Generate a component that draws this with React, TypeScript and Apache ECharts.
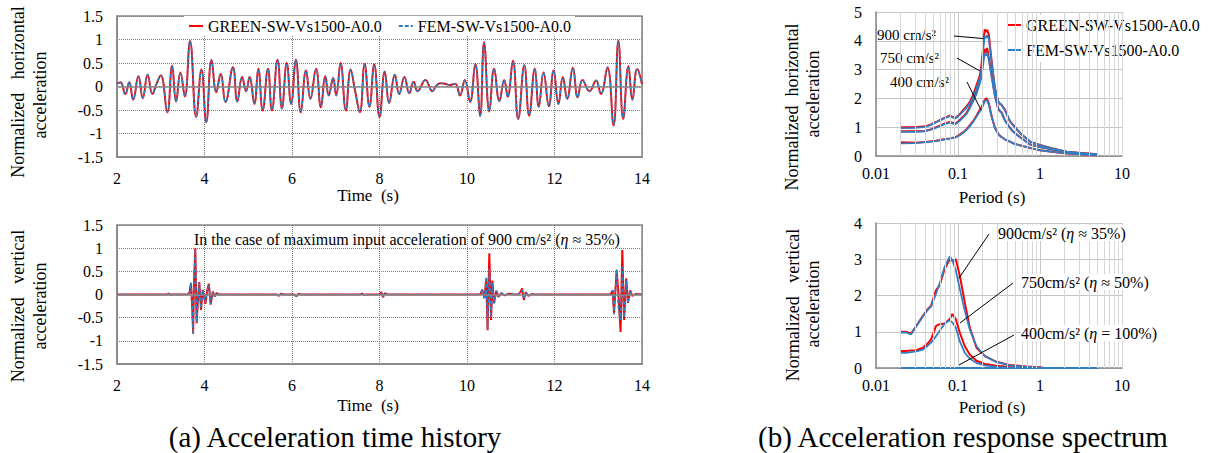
import React, { useEffect, useRef } from "react";
import * as echarts from "echarts";

const FONT = "'Liberation Serif', 'Times New Roman', serif";
const RED = "#FF0000";
const BLUE = "#2F7FC4";
const NAME_GREEN = "GREEN-SW-Vs1500-A0.0";
const NAME_FEM = "FEM-SW-Vs1500-A0.0";
const SPEC_SUFFIX = " (spectrum)";

// ---------- (a) horizontal time history ----------
const horizTimes = [
  2.0, 2.08, 2.19, 2.28, 2.37, 2.49, 2.59, 2.7, 2.81, 2.9,
  3.0, 3.15, 3.26, 3.35, 3.45, 3.55, 3.67, 3.81, 3.93, 4.04,
  4.16, 4.27, 4.37, 4.48, 4.65, 4.75, 4.86, 4.95, 5.03, 5.14,
  5.23, 5.33, 5.45, 5.54, 5.67, 5.77, 5.88, 5.98, 6.09, 6.2,
  6.32, 6.42, 6.55, 6.66, 6.76, 6.84, 6.94, 7.01, 7.11, 7.23,
  7.34, 7.44, 7.55, 7.66, 7.77, 7.88, 8.0, 8.12, 8.22, 8.35,
  8.45, 8.57, 8.68, 8.78, 8.87, 9.05, 9.21, 9.3, 9.39, 9.5,
  9.6, 9.73, 9.84, 9.95, 10.07, 10.19, 10.3, 10.39, 10.51, 10.62,
  10.74, 10.85, 10.93, 11.05, 11.17, 11.31, 11.42, 11.55, 11.64, 11.75,
  11.87, 11.98, 12.09, 12.19, 12.29, 12.42, 12.53, 12.64, 12.8, 12.95,
  13.06, 13.21, 13.35, 13.46, 13.57, 13.69, 13.78, 13.89, 14.0,
];
const horizGreen = [
  0.06, 0.09, -0.16, 0.09, -0.28, 0.22, -0.25, 0.25, -0.16, 0.05,
  0.24, -0.55, 0.44, -0.32, 0.3, -0.21, 0.97, -0.65, 0.36, -0.76,
  0.57, -0.12, 0.27, -0.33, 0.41, -0.32, 0.2, -0.1, 0.2, -0.37,
  0.38, -0.51, 0.38, -0.51, 0.57, -0.47, 0.5, -0.37, 0.57, -0.55,
  0.34, -0.26, 0.38, -0.44, 0.22, -0.19, 0.18, -0.19, 0.5, -0.51,
  0.36, -0.08, -0.55, 0.48, -0.43, 0.47, -0.65, 0.32, -0.35, 0.25,
  -0.16, 0.2, -0.14, 0.1, -0.1, 0.14, -0.1, 0.02, 0.07, 0.06,
  0.03, 0.06, -0.19, 0.14, -0.33, 0.48, -0.63, 0.94, -0.53, 0.38,
  -0.31, 0.14, -0.22, 0.55, -0.69, 0.45, -0.62, 0.38, -0.43, 0.3,
  -0.42, 0.34, -0.37, 0.2, -0.26, 0.4, -0.23, 0.14, -0.1, 0.13,
  -0.16, 0.41, -0.83, 0.98, -0.69, 0.43, -0.28, 0.37, 0.05,
];
const horizFem = [
  0.06, 0.08, -0.15, 0.09, -0.27, 0.22, -0.24, 0.25, -0.16, 0.05,
  0.23, -0.54, 0.43, -0.32, 0.29, -0.21, 0.95, -0.64, 0.35, -0.75,
  0.56, -0.12, 0.27, -0.33, 0.4, -0.32, 0.2, -0.1, 0.2, -0.36,
  0.37, -0.5, 0.38, -0.5, 0.56, -0.47, 0.49, -0.37, 0.56, -0.54,
  0.34, -0.26, 0.37, -0.43, 0.22, -0.19, 0.18, -0.19, 0.49, -0.5,
  0.35, -0.08, -0.54, 0.47, -0.43, 0.46, -0.64, 0.32, -0.35, 0.25,
  -0.16, 0.2, -0.14, 0.1, -0.1, 0.14, -0.1, 0.02, 0.07, 0.06,
  0.03, 0.06, -0.19, 0.14, -0.32, 0.47, -0.62, 0.92, -0.52, 0.38,
  -0.31, 0.14, -0.22, 0.54, -0.68, 0.45, -0.61, 0.38, -0.43, 0.3,
  -0.41, 0.34, -0.37, 0.2, -0.26, 0.39, -0.23, 0.14, -0.1, 0.13,
  -0.16, 0.4, -0.82, 0.96, -0.68, 0.43, -0.28, 0.36, 0.05,
];

// ---------- (a) vertical time history ----------
const vertTimes = [
  2.0, 3.15, 3.18, 3.22, 3.25, 3.62, 3.66, 3.69, 3.72, 3.74,
  3.76, 3.79, 3.82, 3.85, 3.88, 3.92, 3.96, 3.99, 4.02, 4.06,
  4.1, 4.14, 4.19, 4.23, 4.28, 4.33, 5.65, 5.7, 5.75, 5.8,
  6.05, 6.1, 6.15, 6.2, 7.55, 7.6, 7.65, 7.7, 8.0, 8.04,
  8.08, 8.12, 8.18, 10.3, 10.35, 10.4, 10.44, 10.47, 10.51, 10.55,
  10.58, 10.62, 10.67, 10.72, 10.78, 10.86, 10.95, 11.05, 11.17, 11.22,
  11.26, 11.3, 11.34, 11.4, 11.48, 11.55, 13.28, 13.33, 13.36, 13.42,
  13.46, 13.51, 13.55, 13.59, 13.64, 13.68, 13.73, 13.78, 13.85, 14.0,
];
const vertGreen = [
  0, 0, 0.02, -0.01, 0, 0, 0.05, 0.24, -0.3, -0.84,
  0.25, 1.0, -0.62, -0.12, 0.27, -0.33, 0.1, -0.05, -0.2, 0.08,
  0.23, -0.22, 0.06, -0.04, 0.03, 0, 0, -0.03, 0.02, 0,
  0, -0.04, 0.02, 0, 0, 0.02, -0.01, 0, 0, 0.05,
  -0.06, 0.03, 0, 0, 0.1, -0.08, 0.35, -0.77, 0.89, -0.55,
  0.3, -0.18, 0.08, -0.05, 0.03, -0.02, 0.02, 0, 0, 0.05,
  0.13, -0.12, 0.05, -0.03, 0.01, 0, 0, 0.09, -0.41, 0.52,
  0.05, -0.81, 0.96, -0.55, 0.35, -0.18, 0.09, -0.03, 0.01, 0,
];
const vertFem = [
  0, 0, 0.02, -0.01, 0, 0, 0.05, 0.26, -0.28, -0.86,
  0.3, 0.97, -0.6, -0.18, 0.25, -0.3, 0.1, -0.05, -0.18, 0.08,
  0.2, -0.2, 0.06, -0.04, 0.03, 0, 0, -0.02, 0.02, 0,
  0, -0.04, 0.02, 0, 0, 0.02, -0.01, 0, 0, 0.05,
  -0.06, 0.03, 0, 0, 0.12, -0.08, 0.38, -0.75, 0.56, -0.5,
  0.25, -0.2, 0.08, -0.05, 0.03, -0.02, 0.02, 0, 0, 0.05,
  0.1, -0.1, 0.05, -0.03, 0.01, 0, 0, 0.09, -0.43, 0.55,
  -0.3, -0.55, 0.6, -0.5, 0.3, -0.18, 0.09, -0.03, 0.01, 0,
];

// ---------- (b) horizontal response spectrum ----------
const hPeriods = [
  0.02, 0.03, 0.04, 0.047, 0.054, 0.065, 0.079, 0.093, 0.105, 0.115,
  0.127, 0.139, 0.152, 0.168, 0.18, 0.19, 0.2, 0.206, 0.212, 0.22,
  0.227, 0.238, 0.257, 0.282, 0.309, 0.325, 0.339, 0.372, 0.43, 0.471,
  0.569, 0.758, 1.0, 1.46, 2.12, 3.2, 5.0,
];
const hGreen900 = [
  1.0, 1.0, 1.03, 1.1, 1.18, 1.3, 1.4, 1.32, 1.45, 1.58,
  1.72, 1.87, 2.1, 2.45, 2.7, 2.95, 3.6, 4.1, 4.4, 4.3,
  4.38, 4.2, 3.3, 2.35, 1.9, 1.8, 1.78, 1.62, 1.2, 1.08,
  0.8, 0.5, 0.38, 0.25, 0.15, 0.1, 0.06,
];
const hFem900 = [
  0.97, 0.98, 1.01, 1.08, 1.17, 1.28, 1.38, 1.3, 1.43, 1.55,
  1.68, 1.82, 2.03, 2.35, 2.6, 2.85, 3.45, 3.9, 4.15, 4.1,
  4.2, 4.05, 3.25, 2.35, 1.9, 1.82, 1.78, 1.6, 1.2, 1.06,
  0.8, 0.5, 0.38, 0.25, 0.15, 0.1, 0.06,
];
const hGreen750 = [
  0.86, 0.86, 0.87, 0.93, 1.0, 1.1, 1.18, 1.12, 1.25, 1.36,
  1.5, 1.7, 1.93, 2.22, 2.5, 2.75, 3.2, 3.5, 3.72, 3.6,
  3.75, 3.4, 2.8, 2.1, 1.65, 1.55, 1.52, 1.25, 0.98, 0.85,
  0.66, 0.4, 0.31, 0.22, 0.14, 0.09, 0.05,
];
const hFem750 = [
  0.84, 0.84, 0.86, 0.92, 0.98, 1.08, 1.16, 1.1, 1.22, 1.33,
  1.46, 1.65, 1.88, 2.15, 2.42, 2.65, 3.05, 3.35, 3.55, 3.48,
  3.6, 3.32, 2.75, 2.08, 1.66, 1.56, 1.5, 1.24, 0.97, 0.84,
  0.65, 0.4, 0.31, 0.22, 0.14, 0.09, 0.05,
];
const hGreen400 = [
  0.48, 0.46, 0.49, 0.51, 0.53, 0.57, 0.61, 0.65, 0.74, 0.82,
  0.93, 1.06, 1.2, 1.4, 1.55, 1.65, 1.78, 1.88, 1.95, 2.0,
  1.97, 1.82, 1.38, 0.98, 0.78, 0.7, 0.66, 0.58, 0.5, 0.44,
  0.37, 0.28, 0.2, 0.14, 0.09, 0.06, 0.03,
];
const hFem400 = [
  0.44, 0.45, 0.48, 0.5, 0.52, 0.56, 0.6, 0.64, 0.72, 0.8,
  0.91, 1.03, 1.17, 1.36, 1.5, 1.6, 1.72, 1.82, 1.9, 1.94,
  1.92, 1.78, 1.36, 0.97, 0.77, 0.7, 0.66, 0.58, 0.5, 0.44,
  0.37, 0.28, 0.2, 0.14, 0.09, 0.06, 0.03,
];

// ---------- (b) vertical response spectrum ----------
const vPeriods = [
  0.02, 0.0233, 0.0268, 0.031, 0.0373, 0.042, 0.047, 0.054, 0.0597, 0.0688,
  0.0794, 0.085, 0.094, 0.105, 0.121, 0.139, 0.168, 0.212, 0.295, 0.43,
  0.687, 1.0, 1.1, 2.0, 5.0,
];
const vGreen900 = [
  1.0, 1.0, 0.95, 1.16, 1.44, 1.6, 1.72, 2.15, 2.28, 2.74,
  3.0, 2.95, 3.0, 2.56, 1.81, 1.12, 0.56, 0.33, 0.17, 0.08,
  0.04, 0.02, 0, 0, 0,
];
const vFem900 = [
  0.98, 0.98, 0.93, 1.15, 1.42, 1.58, 1.7, 2.05, 2.33, 2.79,
  3.08, 2.98, 2.7, 2.19, 1.58, 1.07, 0.6, 0.33, 0.16, 0.07,
  0.03, 0.01, 0, 0, 0,
];
const vGreen750 = [
  0.47, 0.47, 0.48, 0.49, 0.56, 0.66, 0.79, 1.16, 1.21, 1.23,
  1.35, 1.49, 1.35, 0.98, 0.6, 0.37, 0.2, 0.11, 0.06, 0.03,
  0.01, 0, 0, 0, 0,
];
const vFem750 = [
  0.42, 0.42, 0.44, 0.46, 0.51, 0.6, 0.7, 0.88, 1.02, 1.23,
  1.32, 1.26, 1.12, 0.74, 0.42, 0.26, 0.14, 0.07, 0.03, 0.01,
  0, 0, 0, 0, 0,
];
const vGreen400 = [
  0, 0, 0, 0, 0, 0, 0, 0, 0, 0, 0, 0, 0, 0, 0, 0, 0, 0, 0, 0, 0, 0, 0, 0, 0,
];
const vFem400 = [
  0, 0, 0, 0, 0, 0, 0, 0, 0, 0, 0, 0, 0, 0, 0, 0, 0, 0, 0, 0, 0, 0, 0, 0, 0,
];

// minor log gridlines of the spectrum plots
const logGridValues = [
  0.02, 0.03, 0.04, 0.05, 0.06, 0.07, 0.08, 0.09,
  0.2, 0.3, 0.4, 0.5, 0.6, 0.7, 0.8, 0.9,
  2, 3, 4, 5, 6, 7, 8, 9, 10,
];

const pairs = (xs: number[], ys: number[]) => xs.map((x, i) => [x, ys[i]]);

function timeX(gridIndex: number) {
  return {
    type: "value",
    gridIndex,
    min: 2,
    max: 14,
    interval: 2,
    axisLine: { show: true, onZero: false, lineStyle: { color: "#868686", width: 1.5 } },
    axisTick: { show: false },
    axisLabel: { fontFamily: FONT, fontSize: 16, color: "#000", margin: 13 },
    splitLine: { show: true, lineStyle: { color: "#7a7a7a", type: "dotted", width: 1 } },
  };
}
function timeY(gridIndex: number) {
  return {
    type: "value",
    gridIndex,
    min: -1.5,
    max: 1.5,
    interval: 0.5,
    axisLine: { show: true, onZero: false, lineStyle: { color: "#868686", width: 1.5 } },
    axisTick: { show: false },
    axisLabel: { fontFamily: FONT, fontSize: 16, color: "#000", margin: 14 },
    splitLine: { show: true, lineStyle: { color: "#7a7a7a", type: "dotted", width: 1 } },
  };
}
function logX(gridIndex: number) {
  return {
    type: "log",
    logBase: 10,
    gridIndex,
    min: 0.01,
    max: 10,
    axisLine: { show: true, onZero: false, lineStyle: { color: "#868686", width: 1.5 } },
    axisTick: { show: false },
    axisLabel: {
      fontFamily: FONT,
      fontSize: 16,
      color: "#000",
      margin: 9,
      formatter: (v: number) => String(+Number(v).toPrecision(3)),
    },
    splitLine: { show: true, lineStyle: { color: "#c8c8c8", width: 1 } },
  };
}
function specY(gridIndex: number, max: number) {
  return {
    type: "value",
    gridIndex,
    min: 0,
    max,
    interval: 1,
    axisLine: { show: true, onZero: false, lineStyle: { color: "#868686", width: 1.5 } },
    axisTick: { show: false },
    axisLabel: { fontFamily: FONT, fontSize: 16, color: "#000", margin: 14 },
    splitLine: { show: true, lineStyle: { color: "#c4c4c4", width: 1 } },
  };
}

function lineSeries(name: string, idx: number, data: number[][], color: string, opts: any = {}) {
  return {
    type: "line",
    name,
    xAxisIndex: idx,
    yAxisIndex: idx,
    data,
    symbol: "none",
    showSymbol: false,
    silent: true,
    clip: false,
    itemStyle: { color },
    lineStyle: { color, width: 2, ...(opts.lineStyle || {}) },
    smooth: opts.smooth ?? false,
    z: opts.z ?? 3,
    emphasis: { disabled: true },
  };
}

function markSeries(idx: number, data: any[], lineStyle: any) {
  return {
    type: "line",
    xAxisIndex: idx,
    yAxisIndex: idx,
    data: [],
    silent: true,
    z: 1,
    markLine: {
      silent: true,
      symbol: ["none", "none"],
      label: { show: false },
      lineStyle,
      data,
      animation: false,
    },
  };
}

function text(x: number, y: number, t: string, fontSize: number, extra: any = {}) {
  return {
    type: "text",
    x,
    y,
    silent: true,
    rotation: extra.rotation || 0,
    style: {
      text: t,
      fontFamily: FONT,
      fontSize,
      fill: "#000",
      align: extra.align || "center",
      verticalAlign: "middle",
      ...(extra.style || {}),
    },
  };
}

function richText(x: number, y: number, before: string, after: string, fontSize: number, bg?: string) {
  const base = { fontFamily: FONT, fontSize, fill: "#000", color: "#000" };
  return {
    type: "text",
    x,
    y,
    silent: true,
    z: 10,
    style: {
      text: `{n|${before}}{i|η}{n|${after}}`,
      align: "left",
      verticalAlign: "middle",
      backgroundColor: bg,
      rich: {
        n: { ...base },
        i: { ...base, fontStyle: "italic" },
      },
    },
  };
}

function leader(x1: number, y1: number, x2: number, y2: number) {
  return {
    type: "line",
    silent: true,
    z: 10,
    shape: { x1, y1, x2, y2 },
    style: { stroke: "#000", lineWidth: 1 },
  };
}

function buildOption() {
  const dashed = { width: 1.5, type: [4, 2] };
  const SG = NAME_GREEN + SPEC_SUFFIX;
  const SF = NAME_FEM + SPEC_SUFFIX;
  const series: any[] = [
    markSeries(0, [{ yAxis: 0 }], { color: "#8a8a8a", type: "solid", width: 1.5 }),
    markSeries(1, [{ yAxis: 0 }], { color: "#8a8a8a", type: "solid", width: 1.5 }),
    markSeries(2, logGridValues.map((v) => ({ xAxis: v })), { color: "#d6d6d6", type: "solid", width: 1 }),
    markSeries(3, logGridValues.map((v) => ({ xAxis: v })), { color: "#d6d6d6", type: "solid", width: 1 }),
    lineSeries(NAME_GREEN, 0, pairs(horizTimes, horizGreen), RED, { smooth: 0.45, z: 2 }),
    lineSeries(NAME_FEM, 0, pairs(horizTimes, horizFem), BLUE, { smooth: 0.45, z: 3, lineStyle: dashed }),
    lineSeries(NAME_GREEN, 1, pairs(vertTimes, vertGreen), RED, { z: 2 }),
    lineSeries(NAME_FEM, 1, pairs(vertTimes, vertFem), BLUE, { z: 3, lineStyle: dashed }),
    lineSeries(SG, 2, pairs(hPeriods, hGreen900), RED, { z: 2 }),
    lineSeries(SG, 2, pairs(hPeriods, hGreen750), RED, { z: 2 }),
    lineSeries(SG, 2, pairs(hPeriods, hGreen400), RED, { z: 2 }),
    lineSeries(SF, 2, pairs(hPeriods, hFem900), BLUE, { z: 3, lineStyle: { width: 1.8 } }),
    lineSeries(SF, 2, pairs(hPeriods, hFem750), BLUE, { z: 3, lineStyle: { width: 1.8 } }),
    lineSeries(SF, 2, pairs(hPeriods, hFem400), BLUE, { z: 3, lineStyle: { width: 1.8 } }),
    lineSeries(SG, 3, pairs(vPeriods, vGreen900), RED, { z: 2 }),
    lineSeries(SG, 3, pairs(vPeriods, vGreen750), RED, { z: 2 }),
    lineSeries(SG, 3, pairs(vPeriods, vGreen400), RED, { z: 2 }),
    lineSeries(SF, 3, pairs(vPeriods, vFem900), BLUE, { z: 3, lineStyle: { width: 1.8 } }),
    lineSeries(SF, 3, pairs(vPeriods, vFem750), BLUE, { z: 3, lineStyle: { width: 1.8 } }),
    lineSeries(SF, 3, pairs(vPeriods, vFem400), BLUE, { z: 3, lineStyle: { width: 2 } }),
  ];

  const legendText = { fontFamily: FONT, fontSize: 16, color: "#000" };

  return {
    animation: false,
    backgroundColor: "#fff",
    grid: [
      { left: 117, top: 16, width: 525, height: 141, show: true, borderColor: "#8a8a8a", borderWidth: 1.5, backgroundColor: "transparent" },
      { left: 117, top: 225, width: 525, height: 139, show: true, borderColor: "#8a8a8a", borderWidth: 1.5, backgroundColor: "transparent" },
      { left: 876, top: 12, width: 246, height: 144 },
      { left: 876, top: 223, width: 246, height: 145 },
    ],
    xAxis: [timeX(0), timeX(1), logX(2), logX(3)],
    yAxis: [timeY(0), timeY(1), specY(2, 5), specY(3, 4)],
    legend: [
      {
        left: 184,
        top: 16,
        orient: "horizontal",
        itemWidth: 14,
        itemHeight: 12,
        itemGap: 16,
        padding: [2, 4, 2, 4],
        backgroundColor: "#fff",
        selectedMode: false,
        textStyle: legendText,
        itemStyle: { opacity: 0 },
        data: [NAME_GREEN, NAME_FEM],
      },
      {
        left: 1002,
        top: 15,
        orient: "vertical",
        itemWidth: 14,
        itemHeight: 12,
        itemGap: 9,
        padding: [2, 4, 4, 4],
        backgroundColor: "#fff",
        selectedMode: false,
        textStyle: legendText,
        itemStyle: { opacity: 0 },
        formatter: (name: string) => name.replace(SPEC_SUFFIX, ""),
        data: [SG, SF],
      },
    ],
    series,
    graphic: [
      text(18, 92, "Normalized   horizontal", 18, { rotation: Math.PI / 2 }),
      text(40, 95, "acceleration", 18, { rotation: Math.PI / 2 }),
      text(18, 306, "Normalized   vertical", 18, { rotation: Math.PI / 2 }),
      text(40, 306, "acceleration", 18, { rotation: Math.PI / 2 }),
      text(792, 107, "Normalized  horizontal", 18, { rotation: Math.PI / 2 }),
      text(813, 94, "acceleration", 18, { rotation: Math.PI / 2 }),
      text(793, 305, "Normalized   vertical", 18, { rotation: Math.PI / 2 }),
      text(813, 304, "acceleration", 18, { rotation: Math.PI / 2 }),
      text(368, 195, "Time  (s)", 17),
      text(368, 405, "Time  (s)", 17),
      text(992, 197, "Period (s)", 17),
      text(992, 407, "Period (s)", 17),
      text(335, 437, "(a) Acceleration time history", 29),
      text(963, 437, "(b) Acceleration response spectrum", 29),
      richText(194, 239, "In the case of maximum input acceleration of 900 cm/s² (", " ≈ 35%)", 16),
      text(877, 35, "900 cm/s²", 15, { align: "left", style: { backgroundColor: "#fff" } }),
      text(880, 58, "750 cm/s²", 15, { align: "left", style: { backgroundColor: "#fff" } }),
      text(890, 82, "400 cm/s²", 15, { align: "left", style: { backgroundColor: "#fff" } }),
      leader(954, 36, 983, 38.5),
      leader(957, 58, 980, 71),
      leader(967, 82, 981, 110),
      richText(998, 233, "900cm/s² (", " ≈ 35%)", 16, "#fff"),
      richText(1021, 282, "750cm/s² (", " ≈ 50%)", 16, "#fff"),
      richText(1021, 333, "400cm/s² (", " = 100%)", 16, "#fff"),
      leader(989, 234, 959, 278),
      leader(1013, 283, 960, 323),
      leader(1014, 335, 959, 365),
    ],
  };
}

export default function App() {
  const ref = useRef<HTMLDivElement>(null);
  useEffect(() => {
    document.body.style.margin = "0";
    const chart = echarts.init(ref.current as HTMLDivElement, undefined, { renderer: "svg" });
    chart.setOption(buildOption() as any);
    return () => chart.dispose();
  }, []);
  return <div ref={ref} style={{ width: 1210, height: 453 }} />;
}
